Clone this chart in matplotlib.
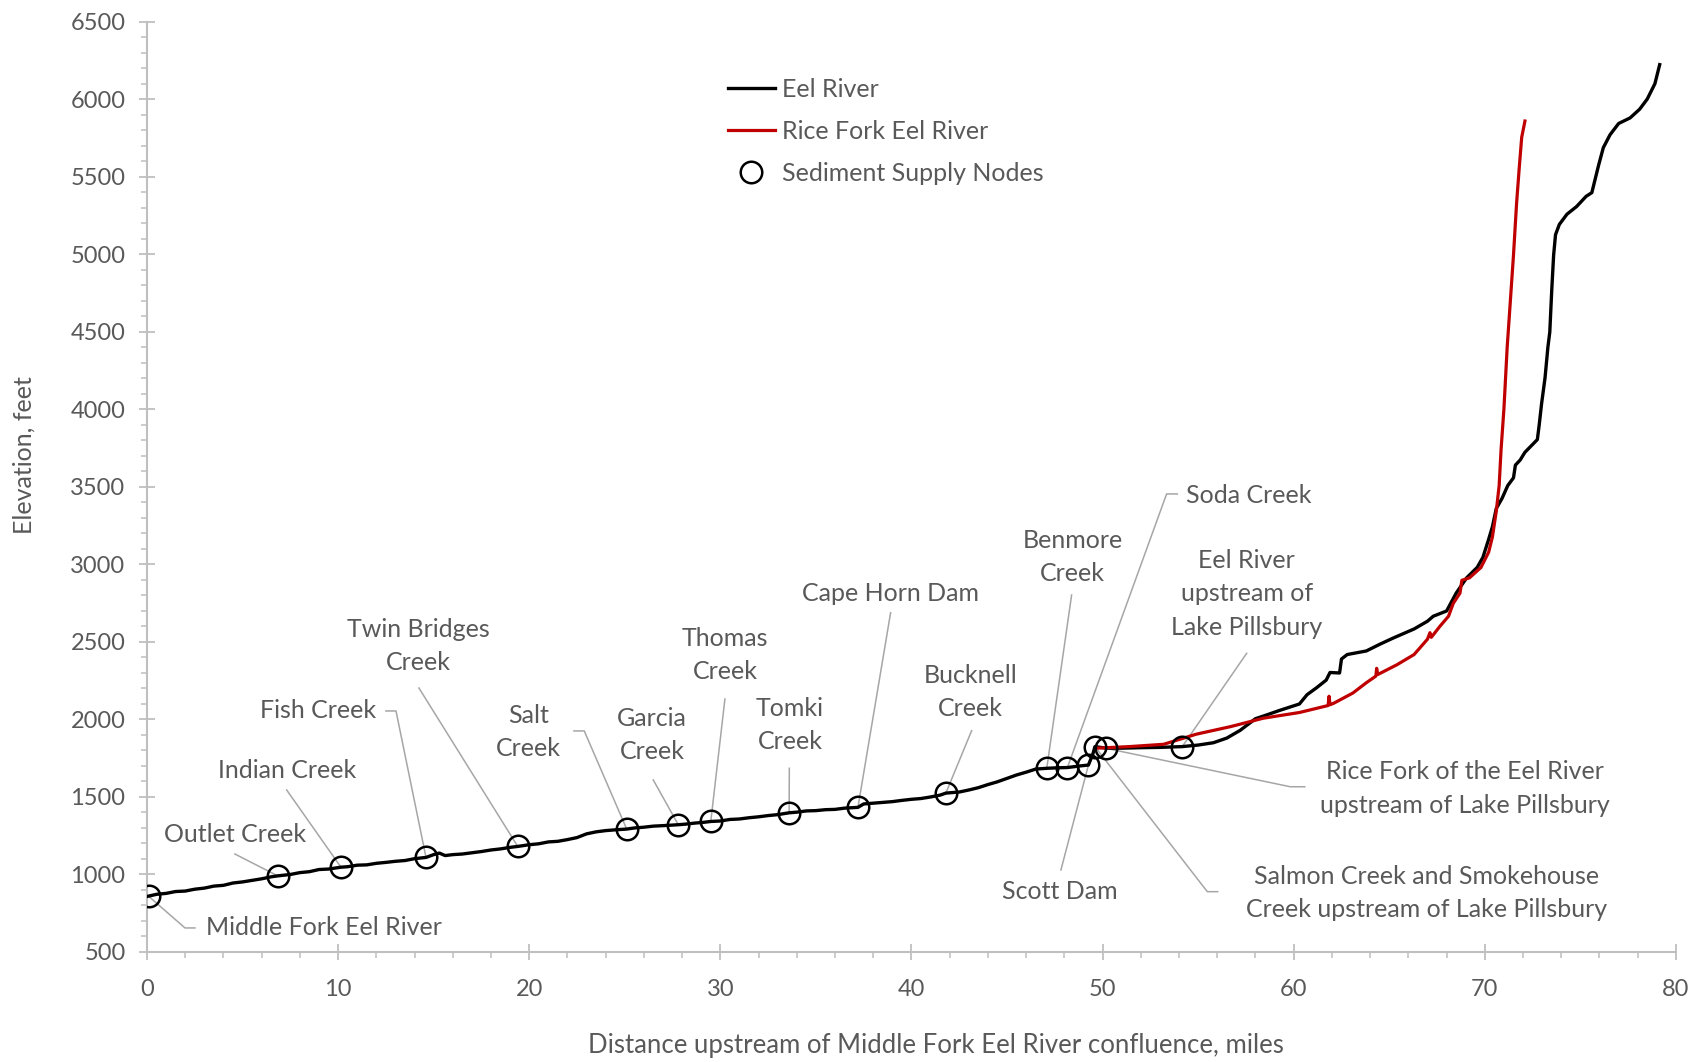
import matplotlib
matplotlib.use("Agg")
import matplotlib.pyplot as plt
from matplotlib.ticker import MultipleLocator

plt.rcParams['font.family'] = ['Lato', 'DejaVu Sans']

# DATA

# Eel River profile (distance, miles / elevation, feet)
eel_dist = [0.0, 0.5, 1, 1.5, 2, 2.5, 3, 3.5, 4, 4.5, 5, 5.5, 6, 6.5, 6.84, 7.5, 8, 8.5,
            9, 9.5, 10.15, 10.5, 11, 11.5, 12, 12.5, 13, 13.5, 14, 14.6, 15, 15.3, 15.6,
            16, 16.5, 17, 17.5, 18, 18.5, 19, 19.4, 20, 20.5, 21, 21.5, 22, 22.5, 23,
            23.5, 24, 24.5, 25.1, 25.5, 26, 26.5, 27, 27.8, 28.2, 28.7, 29.1, 29.5, 30,
            30.5, 31, 31.5, 32, 32.5, 33, 33.6, 34, 34.5, 35, 35.5, 36, 36.5, 37.2, 37.5,
            38, 38.5, 39, 39.5, 40, 40.5, 41, 41.5, 41.8, 42.5, 43, 43.5, 44, 44.5, 45,
            45.5, 46, 46.5, 47.08, 47.6, 48.16, 48.8, 49.26, 49.5, 49.6, 50.18, 51, 52,
            53, 54.17, 55, 55.8, 56.5, 57.2, 58, 58.6, 59.3, 60.3, 60.7, 61.2, 61.7, 61.9,
            62.4, 62.5, 62.8, 63.8, 64.5, 65.2, 66.3, 67.0, 67.3, 68.0, 68.5, 69.05, 69.6,
            69.9, 70.2, 70.4, 70.6, 70.9, 71.2, 71.5, 71.6, 71.85, 72.1, 72.5, 72.75,
            72.85, 72.97, 73.15, 73.3, 73.4, 73.5, 73.6, 73.7, 73.9, 74.3, 74.8, 75.3,
            75.6, 75.75, 75.95, 76.2, 76.55, 77.0, 77.6, 78.1, 78.5, 78.9, 79.15]
eel_elev = [858, 872, 878, 890, 893, 905, 912, 925, 930, 945, 952, 962, 972, 985, 991,
            1000, 1012, 1018, 1032, 1035, 1047, 1050, 1060, 1062, 1072, 1078, 1085, 1090,
            1102, 1110, 1128, 1138, 1122, 1128, 1132, 1140, 1148, 1158, 1165, 1175, 1181,
            1192, 1198, 1210, 1214, 1225, 1238, 1262, 1275, 1283, 1288, 1293, 1300, 1305,
            1312, 1315, 1321, 1325, 1332, 1336, 1342, 1345, 1355, 1358, 1366, 1372, 1380,
            1386, 1398, 1402, 1410, 1412, 1418, 1420, 1428, 1433, 1455, 1460, 1465, 1470,
            1478, 1485, 1490, 1500, 1512, 1525, 1532, 1545, 1560, 1580, 1598, 1620, 1642,
            1660, 1680, 1685, 1688, 1690, 1700, 1706, 1780, 1825, 1815, 1815, 1818, 1820,
            1825, 1835, 1850, 1880, 1930, 2005, 2030, 2060, 2100, 2160, 2205, 2254, 2303,
            2300, 2390, 2419, 2442, 2485, 2525, 2584, 2634, 2666, 2700, 2815, 2914, 2981,
            3046, 3162, 3245, 3361, 3426, 3509, 3559, 3641, 3674, 3724, 3774, 3806, 3905,
            4037, 4203, 4401, 4500, 4765, 4995, 5128, 5194, 5260, 5309, 5375, 5399, 5474,
            5574, 5689, 5772, 5845, 5881, 5937, 6003, 6102, 6225]

# Rice Fork Eel River profile
rice_dist = [49.7, 51.4, 53.2, 54.9, 56.7, 58.4, 60.3, 61.2, 61.8, 61.85, 61.9, 62.1,
             63.1, 63.8, 64.3, 64.34, 64.4, 65.4, 66.3, 67.0, 67.13, 67.2, 67.65, 68.1,
             68.35, 68.7, 68.8, 69.2, 69.8, 70.2, 70.4, 70.6, 70.75, 70.85, 71.0, 71.17,
             71.28, 71.5, 71.66, 71.8, 71.93, 72.1]
rice_elev = [1815, 1825, 1840, 1905, 1954, 2008, 2045, 2072, 2090, 2150, 2095, 2105,
             2171, 2237, 2280, 2330, 2290, 2353, 2419, 2518, 2560, 2530, 2601, 2666,
             2749, 2815, 2898, 2914, 2981, 3079, 3179, 3344, 3509, 3740, 4004, 4401,
             4599, 4995, 5326, 5557, 5756, 5861]

# Sediment supply nodes
node_names = ["Middle Fork Eel River", "Outlet Creek", "Indian Creek", "Fish Creek",
              "Twin Bridges\nCreek", "Salt\nCreek", "Garcia\nCreek", "Thomas\nCreek",
              "Tomki\nCreek", "Cape Horn Dam", "Bucknell\nCreek", "Benmore\nCreek",
              "Soda Creek", "Scott Dam",
              "Salmon Creek and Smokehouse\nCreek upstream of Lake Pillsbury",
              "Rice Fork of the Eel River\nupstream of Lake Pillsbury",
              "Eel River\nupstream of\nLake Pillsbury"]
node_dist = [0.1, 6.84, 10.15, 14.6, 19.4, 25.1, 27.8, 29.5, 33.6, 37.2, 41.8, 47.08,
             48.16, 49.26, 49.6, 50.18, 54.17]
node_elev = [858, 991, 1047, 1110, 1181, 1293, 1321, 1342, 1398, 1433, 1525, 1685,
             1690, 1706, 1825, 1814, 1825]

# label placement (data coords) and leader line start / stub end
label_x = [3.09, 4.60, 7.31, 11.98, 14.2, 19.95, 26.44, 30.24, 33.64, 38.88, 43.10,
           48.42, 54.36, 47.77, 66.97, 68.94, 57.54]
label_y = [655, 1255, 1674, 2055, 2474, 1919, 1900, 2416, 1965, 2814, 2177, 3048,
           3448, 889, 881, 1555, 2810]
label_ha = ["left", "center", "center", "right", "center", "center", "center", "center",
            "center", "center", "center", "center", "left", "center", "center", "center",
            "center"]
lead_x0 = [2.51, 4.60, 7.31, 12.50, 14.23, 22.34, 26.49, 30.24, 33.61, 38.91, 43.15,
           48.38, 53.91, 47.82, 56.02, 60.58, 57.54]
lead_y0 = [655, 1132, 1545, 2055, 2203, 1926, 1610, 2132, 1685, 2689, 1928, 2803,
           3455, 1029, 889, 1566, 2427]
lead_x1 = [1.99, 4.60, 7.31, 13.03, 14.23, 22.88, 26.49, 30.24, 33.61, 38.91, 43.15,
           48.38, 53.35, 47.82, 55.48, 59.82, 57.54]

txt_col = '#595959'
grid_col = '#bfbfbf'

fig = plt.figure(figsize=(17.07, 10.62), dpi=100)
ax = fig.add_axes([0.0861, 0.1036, 0.8957, 0.8757])

ax.plot(eel_dist, eel_elev, color='black', lw=2.4, zorder=3, label='Eel River')
ax.plot(rice_dist, rice_elev, color='#c00000', lw=2.3, zorder=3, label='Rice Fork Eel River')
ax.plot(node_dist, node_elev, 'o', ms=15.5, mfc='none', mec='black', mew=1.8, zorder=4,
        label='Sediment Supply Nodes')

# data labels with leader lines
for i, name in enumerate(node_names):
    ax.plot([lead_x0[i], lead_x1[i], node_dist[i]], [lead_y0[i], lead_y0[i], node_elev[i]],
            color='#a6a6a6', lw=1.1, zorder=2)
    ax.text(label_x[i], label_y[i], name, ha=label_ha[i], va='center', fontsize=18,
            color=txt_col, linespacing=1.55)

ax.set_xlim(0, 80)
ax.set_ylim(500, 6500)
ax.xaxis.set_major_locator(MultipleLocator(10))
ax.xaxis.set_minor_locator(MultipleLocator(2))
ax.yaxis.set_major_locator(MultipleLocator(500))
ax.yaxis.set_minor_locator(MultipleLocator(100))

for s in ['top', 'right']:
    ax.spines[s].set_visible(False)
for s in ['left', 'bottom']:
    ax.spines[s].set_color(grid_col)
    ax.spines[s].set_linewidth(1.5)

ax.tick_params(which='major', direction='inout', length=11, width=1.3, color=grid_col,
               labelsize=17, labelcolor=txt_col, pad=10)
ax.tick_params(axis='x', which='major', pad=14)
ax.tick_params(which='minor', direction='out', length=4.5, width=1.1, color=grid_col)

ax.set_xlabel('Distance upstream of Middle Fork Eel River confluence, miles',
              fontsize=18.5, color=txt_col)
ax.xaxis.set_label_coords(0.516, -0.087)
ax.set_ylabel('Elevation, feet', fontsize=18, color=txt_col)
ax.yaxis.set_label_coords(-0.073, 0.534)

ax.legend(loc='upper left', bbox_to_anchor=(0.365, 0.964), frameon=False, fontsize=18,
          labelcolor=txt_col, handlelength=1.9, handletextpad=0.26, labelspacing=0.76)

fig.savefig('out.png', dpi=100)
